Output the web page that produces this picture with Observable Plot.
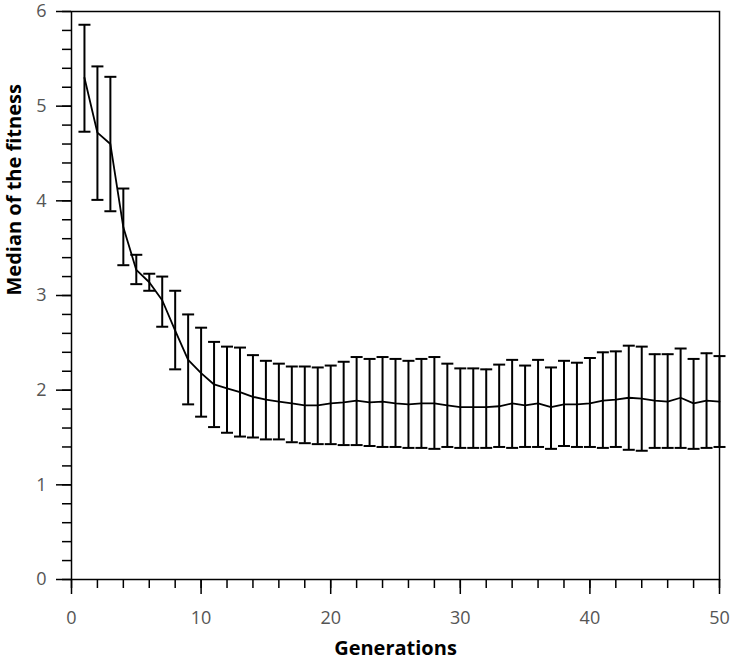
<!DOCTYPE html>
<html>
<head>
<meta charset="utf-8">
<script src="https://cdn.jsdelivr.net/npm/d3@7"></script>
<script src="https://cdn.jsdelivr.net/npm/@observablehq/plot@0.6"></script>
<style>
  html, body { margin: 0; padding: 0; background: #fff; }
</style>
</head>
<body>
<div id="chart"></div>
<script>
const generations = [1,2,3,4,5,6,7,8,9,10,11,12,13,14,15,16,17,18,19,20,21,22,23,24,25,26,27,28,29,30,31,32,33,34,35,36,37,38,39,40,41,42,43,44,45,46,47,48,49,50];
const medianFitness = [5.30,4.72,4.60,3.72,3.27,3.14,2.95,2.63,2.32,2.18,2.06,2.02,1.98,1.93,1.90,1.88,1.86,1.84,1.84,1.86,1.87,1.89,1.87,1.88,1.86,1.85,1.86,1.86,1.84,1.82,1.82,1.82,1.83,1.86,1.84,1.86,1.82,1.85,1.85,1.86,1.89,1.90,1.92,1.91,1.89,1.88,1.92,1.86,1.89,1.88];
const upperBound = [5.86,5.42,5.31,4.13,3.43,3.23,3.20,3.05,2.80,2.66,2.51,2.46,2.45,2.37,2.31,2.28,2.25,2.25,2.24,2.26,2.30,2.35,2.33,2.35,2.33,2.31,2.33,2.35,2.28,2.23,2.23,2.22,2.27,2.32,2.26,2.32,2.24,2.31,2.29,2.34,2.40,2.41,2.47,2.46,2.38,2.38,2.44,2.33,2.39,2.36];
const lowerBound = [4.73,4.01,3.89,3.32,3.12,3.05,2.67,2.22,1.85,1.72,1.61,1.55,1.51,1.50,1.48,1.48,1.45,1.44,1.43,1.43,1.42,1.42,1.41,1.40,1.40,1.39,1.39,1.38,1.40,1.39,1.39,1.39,1.40,1.39,1.40,1.40,1.38,1.41,1.40,1.40,1.39,1.40,1.37,1.36,1.39,1.39,1.39,1.38,1.39,1.40];
const xMajorTicks = [0,10,20,30,40,50];
const xMinorTicks = [0,2,4,6,8,10,12,14,16,18,20,22,24,26,28,30,32,34,36,38,40,42,44,46,48,50];
const yMajorTicks = [0,1,2,3,4,5,6];
const yMinorTicks = [0,0.2,0.4,0.6,0.8,1,1.2,1.4,1.6,1.8,2,2.2,2.4,2.6,2.8,3,3.2,3.4,3.6,3.8,4,4.2,4.4,4.6,4.8,5,5.2,5.4,5.6,5.8,6];
const xTitle = "Generations";
const yTitle = "Median of the fitness";

const data = generations.map((g, i) => ({g, med: medianFitness[i], hi: upperBound[i], lo: lowerBound[i]}));

const capSymbol = {
  draw(context) {
    context.moveTo(-6, 0);
    context.lineTo(6, 0);
  }
};

const chart = Plot.plot({
  width: 731,
  height: 662,
  marginLeft: 71,
  marginRight: 12,
  marginTop: 11,
  marginBottom: 83,
  style: {fontFamily: "'Open Sans', sans-serif", background: "#fff", overflow: "visible"},
  x: {domain: [0, 50]},
  y: {domain: [0, 6]},
  marks: [
    Plot.axisX({ticks: xMinorTicks, tickSize: 9, tickFormat: () => "", stroke: "black", strokeWidth: 1.5, label: null}),
    Plot.axisX({ticks: xMajorTicks, tickSize: 15, tickPadding: 17, tickFormat: d => String(d), stroke: "black", fill: "#555", strokeWidth: 1.5, fontSize: 18, label: null}),
    Plot.axisY({ticks: yMinorTicks, tickSize: 9, tickFormat: () => "", stroke: "black", strokeWidth: 1.5, label: null}),
    Plot.axisY({ticks: yMajorTicks, tickSize: 15, tickPadding: 10, tickFormat: d => String(d), stroke: "black", fill: "#555", strokeWidth: 1.5, fontSize: 18, label: null}),
    Plot.frame({stroke: "black", strokeWidth: 1.5}),
    Plot.ruleX(data, {x: "g", y1: "lo", y2: "hi", stroke: "black", strokeWidth: 2}),
    Plot.dot(data, {x: "g", y: "hi", symbol: capSymbol, r: 6, fill: "none", stroke: "black", strokeWidth: 2}),
    Plot.dot(data, {x: "g", y: "lo", symbol: capSymbol, r: 6, fill: "none", stroke: "black", strokeWidth: 2}),
    Plot.line(data, {x: "g", y: "med", stroke: "black", strokeWidth: 1.8}),
    Plot.text([xTitle], {frameAnchor: "bottom", dy: 69, text: d => d, fontSize: 20, fontWeight: "bold", fill: "black", lineAnchor: "middle"}),
    Plot.text([yTitle], {frameAnchor: "left", dx: -57, rotate: -90, text: d => d, fontSize: 20, fontWeight: "bold", fill: "black", lineAnchor: "middle"})
  ]
});
document.getElementById("chart").appendChild(chart);
</script>
</body>
</html>
